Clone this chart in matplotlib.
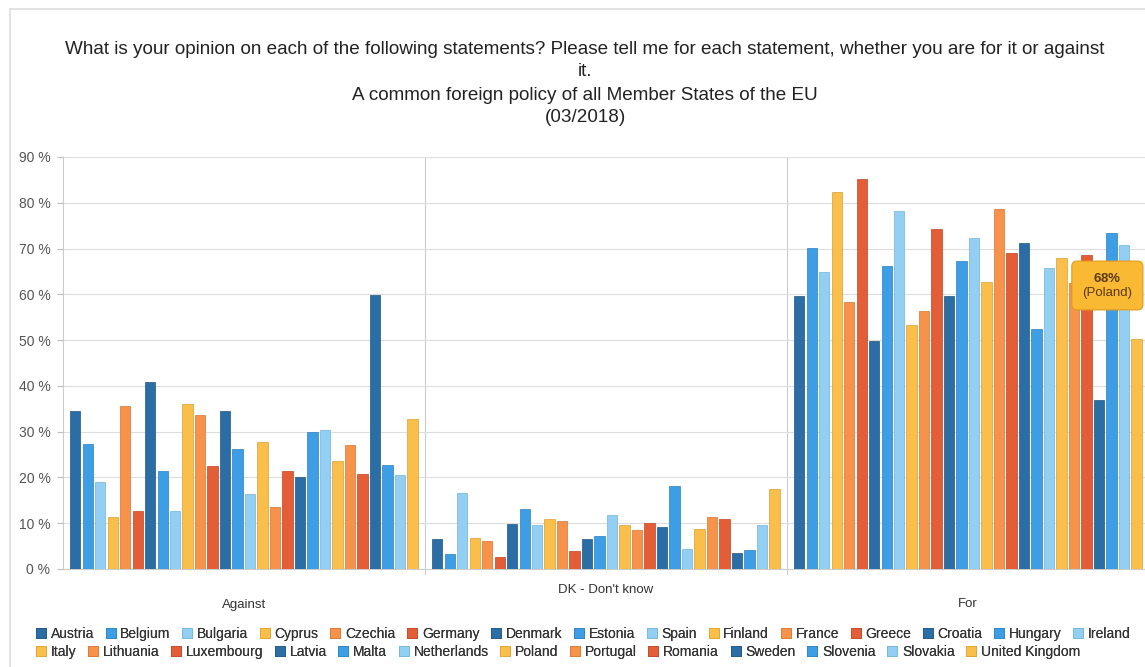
import numpy as np
import matplotlib
matplotlib.use("Agg")
import matplotlib.pyplot as plt
from matplotlib.lines import Line2D

# =========================
# DATA
# =========================
countries = ["Austria", "Belgium", "Bulgaria", "Cyprus", "Czechia", "Germany",
             "Denmark", "Estonia", "Spain", "Finland", "France", "Greece",
             "Croatia", "Hungary", "Ireland", "Italy", "Lithuania", "Luxembourg",
             "Latvia", "Malta", "Netherlands", "Poland", "Portugal", "Romania",
             "Sweden", "Slovenia", "Slovakia", "United Kingdom"]
categories = ["Against", "DK - Don't know", "For"]

against = [34.5, 27.2, 19.0, 11.3, 35.7, 12.6, 40.9, 21.5, 12.6, 36.1, 33.6, 22.6,
           34.5, 26.3, 16.4, 27.7, 13.5, 21.5, 20.0, 29.9, 30.4, 23.7, 27.0, 20.7,
           59.9, 22.8, 20.6, 32.8]
dont_know = [6.5, 3.2, 16.6, 6.8, 6.2, 2.7, 9.8, 13.2, 9.6, 10.9, 10.5, 3.9,
             6.5, 7.2, 11.8, 9.7, 8.5, 10.0, 9.2, 18.2, 4.4, 8.8, 11.4, 10.9,
             3.6, 4.2, 9.6, 17.4]
for_it = [59.6, 70.2, 64.8, 82.4, 58.4, 85.2, 49.9, 66.1, 78.2, 53.3, 56.3, 74.2,
          59.6, 67.3, 72.2, 62.8, 78.7, 69.0, 71.3, 52.4, 65.8, 68.0, 62.4, 68.6,
          36.9, 73.3, 70.8, 50.3]

yticks = [0, 10, 20, 30, 40, 50, 60, 70, 80, 90]

palette = ["#2b6ea6", "#3d9ee6", "#93cff2", "#f9bf4a", "#f7924a", "#e35d36"]
edges = ["#1f5482", "#2b7fbf", "#6fb3dc", "#dca030", "#d87434", "#bf4524"]

# =========================
# PLOT
# =========================
plt.rcParams["font.family"] = ["Liberation Sans", "DejaVu Sans"]
plt.rcParams["mathtext.fontset"] = "custom"
plt.rcParams["mathtext.rm"] = "Liberation Sans"
plt.rcParams["mathtext.bf"] = "Liberation Sans:bold"

fig = plt.figure(figsize=(11.45, 6.67), dpi=100)
ax = fig.add_axes([63 / 1145, 1 - 569 / 667, 1086 / 1145, 412 / 667])

values = np.array([against, dont_know, for_it])
n = len(countries)
slot = 0.0345
bar_w = 0.0285
start = -0.5 + 0.0166

for i, name in enumerate(countries):
    xs = np.arange(len(categories)) + start + (i + 0.5) * slot
    ax.bar(xs, values[:, i], width=bar_w, color=palette[i % 6],
           edgecolor=edges[i % 6], linewidth=0.5, zorder=3, label=name)

ax.set_xlim(-0.5, 2.5)
ax.set_ylim(0, 90)
ax.set_yticks(yticks)
ax.set_yticklabels([f"{v} %" for v in yticks], fontsize=10, color="#555555")
ax.tick_params(axis="y", length=4, color="#bbbbbb", pad=5)
ax.set_xticks([])
ax.grid(axis="y", color="#dddddd", linewidth=0.8, zorder=0)
for sep in [0.5, 1.5]:
    ax.axvline(sep, color="#cccccc", linewidth=0.8, zorder=1)
    ax.plot([sep, sep], [0, -1.2], color="#cccccc", linewidth=0.8, clip_on=False)
for side in ["top", "right"]:
    ax.spines[side].set_visible(False)
ax.spines["left"].set_color("#cccccc")
ax.spines["bottom"].set_color("#cccccc")

# category labels
label_y = [-7.8, -4.6, -7.6]
for k, cat in enumerate(categories):
    ax.text(k, label_y[k], cat, ha="center", va="center", fontsize=9.5, color="#333333")

# tooltip on Poland
pi = countries.index("Poland")
px = 2 + start + (pi + 0.5) * slot
py = for_it[pi]
ax.annotate(r"$\mathbf{" + f"{py:.0f}" + r"\%}$" + "\n(Poland)", xy=(px, py),
            xytext=(33, -20), textcoords="offset points",
            ha="center", va="center", fontsize=9.5, color="#5a3a10", zorder=6,
            linespacing=1.3,
            bbox=dict(boxstyle="round,pad=0.8,rounding_size=0.4", fc="#f9b932",
                      ec="#e39a1c", lw=0.8))

# titles
title_lines = [
    ("What is your opinion on each of the following statements? Please tell me for each statement, whether you are for it or against", 50),
    ("it.", 72),
    ("A common foreign policy of all Member States of the EU", 95),
    ("(03/2018)", 118),
]
for txt, ypix in title_lines:
    fig.text(585 / 1145, 1 - ypix / 667, txt, ha="center", va="center",
             fontsize=13.6, color="#222222")

# frame lines of the chart box
fig.add_artist(Line2D([10 / 1145, 1.0], [1 - 9 / 667] * 2, color="#dddddd", lw=1.2))
fig.add_artist(Line2D([10 / 1145] * 2, [0, 1 - 9 / 667], color="#dddddd", lw=1.2))

# legend in two flowing rows
handles = [Line2D([], [], marker="s", linestyle="none", markersize=7,
                  markerfacecolor=palette[i % 6], markeredgecolor=edges[i % 6],
                  markeredgewidth=0.5) for i in range(n)]
rows = [(0, 15, 634), (15, n, 652)]
for a, b, ypix in rows:
    leg = fig.legend(handles[a:b], countries[a:b], loc="center left",
                     bbox_to_anchor=(36 / 1145, 1 - ypix / 667), ncol=b - a,
                     frameon=False, fontsize=10, handlelength=0.7,
                     handletextpad=0.35, columnspacing=0.85, borderpad=0,
                     borderaxespad=0)
    for t in leg.get_texts():
        t.set_color("#333333")
    fig.add_artist(leg)

fig.savefig("out.png", dpi=100)
